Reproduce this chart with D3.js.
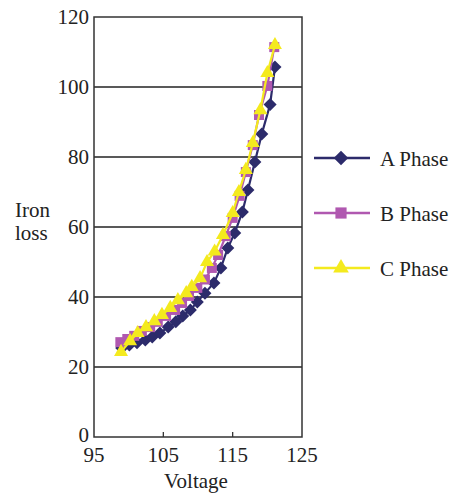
<!DOCTYPE html>
<html>
<head>
<meta charset="utf-8">
<script src="https://cdn.jsdelivr.net/npm/d3@7"></script>
<style>
body { margin: 0; background: #fff; }
text { font-family: 'Liberation Serif', 'Times New Roman', serif; fill: #222; }
</style>
</head>
<body>
<svg id="viz" width="459" height="496"></svg>
<script>
var xTicks = [ 95, 105, 115, 125 ];
var yTicks = [ 0, 20, 40, 60, 80, 100, 120 ];

var phaseNames = [ 'A Phase', 'B Phase', 'C Phase' ];

var aVolt = [ 99, 100.1, 101.2, 102.4, 103.4, 104.5, 105.7, 106.8, 107.8, 108.9, 109.9, 111, 112.3, 113.3, 114.3, 115.3, 116.4, 117.2, 118.2, 119.2, 120.4, 121.1 ];
var aLoss = [ 25.4, 26.3, 26.9, 27.7, 28.6, 29.7, 31.4, 32.9, 34.6, 36.3, 38.6, 41.1, 44, 48.3, 54, 58.3, 64.3, 70.6, 78.6, 86.6, 95, 105.7 ];

var bVolt = [ 98.8, 99.8, 100.8, 101.9, 103.1, 104.2, 105.4, 106.7, 107.7, 108.7, 109.9, 111, 112, 112.9, 114, 115, 116, 116.9, 117.9, 118.8, 120, 121 ];
var bLoss = [ 27.1, 28, 28.9, 30.3, 31.4, 32.9, 34.6, 36.3, 38.3, 40.3, 42.6, 45, 48.3, 52, 57.4, 62.6, 68.9, 75.7, 83.4, 92, 100.3, 111.4 ];

var cVolt = [ 98.9, 100.2, 101.3, 102.5, 103.7, 104.8, 106, 107.1, 108.3, 109.1, 110.3, 111.3, 112.4, 113.6, 115, 115.9, 116.9, 117.9, 119, 120, 121.1 ];
var cLoss = [ 24.3, 27.4, 29.7, 31.4, 33.1, 34.9, 36.9, 39.1, 41.1, 42.9, 45.4, 50, 53, 57.7, 64, 70, 76.3, 84, 93.4, 104, 112 ];

var colors = [ '#2c2b6b', '#b058b0', '#f4ea1e' ];
var symbols = [ d3.symbolSquare, d3.symbolSquare, d3.symbolTriangle ];
var symRotate = [ 45, 0, 0 ];
var symSizes = [ 85, 100, 85 ];

var series = [
	{ volt: aVolt, loss: aLoss },
	{ volt: bVolt, loss: bLoss },
	{ volt: cVolt, loss: cLoss }
];

var svg = d3.select( '#viz' );
var plotLeft = 94, plotRight = 302, plotTop = 17, plotBottom = 437;
var fontSize = 21;

var x = d3.scaleLinear().domain( [ 95, 125 ] ).range( [ plotLeft, plotRight ] );
var y = d3.scaleLinear().domain( [ 0, 120 ] ).range( [ plotBottom, plotTop ] );

// grid lines
svg.selectAll( 'line.grid' )
	.data( yTicks.slice( 1, -1 ) )
	.enter()
	.append( 'line' )
	.attr( 'x1', plotLeft ).attr( 'x2', plotRight )
	.attr( 'y1', function ( d ) { return y( d ); } )
	.attr( 'y2', function ( d ) { return y( d ); } )
	.attr( 'stroke', '#222' )
	.attr( 'stroke-width', 1.3 );

svg.append( 'rect' )
	.attr( 'x', plotLeft ).attr( 'y', plotTop )
	.attr( 'width', plotRight - plotLeft ).attr( 'height', plotBottom - plotTop )
	.attr( 'fill', 'none' )
	.attr( 'stroke', '#333' )
	.attr( 'stroke-width', 1.5 );

// x ticks (inward)
svg.selectAll( 'line.xtick' )
	.data( xTicks.slice( 1, -1 ) )
	.enter()
	.append( 'line' )
	.attr( 'x1', function ( d ) { return x( d ); } )
	.attr( 'x2', function ( d ) { return x( d ); } )
	.attr( 'y1', plotBottom ).attr( 'y2', plotBottom - 5 )
	.attr( 'stroke', '#333' )
	.attr( 'stroke-width', 1.3 );

svg.selectAll( 'text.xlabel' )
	.data( xTicks )
	.enter()
	.append( 'text' )
	.attr( 'x', function ( d ) { return x( d ); } )
	.attr( 'y', 462 )
	.attr( 'text-anchor', 'middle' )
	.attr( 'font-size', fontSize )
	.text( function ( d ) { return d; } );

svg.selectAll( 'text.ylabel' )
	.data( yTicks )
	.enter()
	.append( 'text' )
	.attr( 'x', 89 )
	.attr( 'y', function ( d ) { return y( d ) + ( d === 0 ? 5 : 7 ); } )
	.attr( 'text-anchor', 'end' )
	.attr( 'font-size', fontSize )
	.text( function ( d ) { return d; } );

svg.append( 'text' )
	.attr( 'x', 196 ).attr( 'y', 488 )
	.attr( 'text-anchor', 'middle' )
	.attr( 'font-size', fontSize )
	.text( 'Voltage' );

svg.append( 'text' ).attr( 'x', 15 ).attr( 'y', 217 ).attr( 'font-size', fontSize ).text( 'Iron' );
svg.append( 'text' ).attr( 'x', 15 ).attr( 'y', 240 ).attr( 'font-size', fontSize ).text( 'loss' );

var line = d3.line()
	.x( function ( d ) { return x( d[0] ); } )
	.y( function ( d ) { return y( d[1] ); } );

series.forEach( function ( s, k ) {
	var pts = s.volt.map( function ( v, i ) { return [ v, s.loss[i] ]; } );
	svg.append( 'path' )
		.attr( 'd', line( pts ) )
		.attr( 'fill', 'none' )
		.attr( 'stroke', colors[k] )
		.attr( 'stroke-width', 2.2 );
	svg.selectAll( 'path.m' + k )
		.data( pts )
		.enter()
		.append( 'path' )
		.attr( 'd', d3.symbol().type( symbols[k] ).size( symSizes[k] ) )
		.attr( 'transform', function ( d ) {
			return 'translate(' + x( d[0] ) + ',' + y( d[1] ) + ') rotate(' + symRotate[k] + ')';
		} )
		.attr( 'fill', colors[k] );
} );

// legend
var legY = [ 158, 213, 268 ];
phaseNames.forEach( function ( name, k ) {
	svg.append( 'line' )
		.attr( 'x1', 314 ).attr( 'x2', 370 )
		.attr( 'y1', legY[k] ).attr( 'y2', legY[k] )
		.attr( 'stroke', colors[k] )
		.attr( 'stroke-width', 2.5 );
	svg.append( 'path' )
		.attr( 'd', d3.symbol().type( symbols[k] ).size( symSizes[k] * 1.25 ) )
		.attr( 'transform', 'translate(341,' + legY[k] + ') rotate(' + symRotate[k] + ')' )
		.attr( 'fill', colors[k] );
	svg.append( 'text' )
		.attr( 'x', 380 ).attr( 'y', legY[k] + 8 )
		.attr( 'font-size', fontSize )
		.text( name );
} );
</script>
</body>
</html>
